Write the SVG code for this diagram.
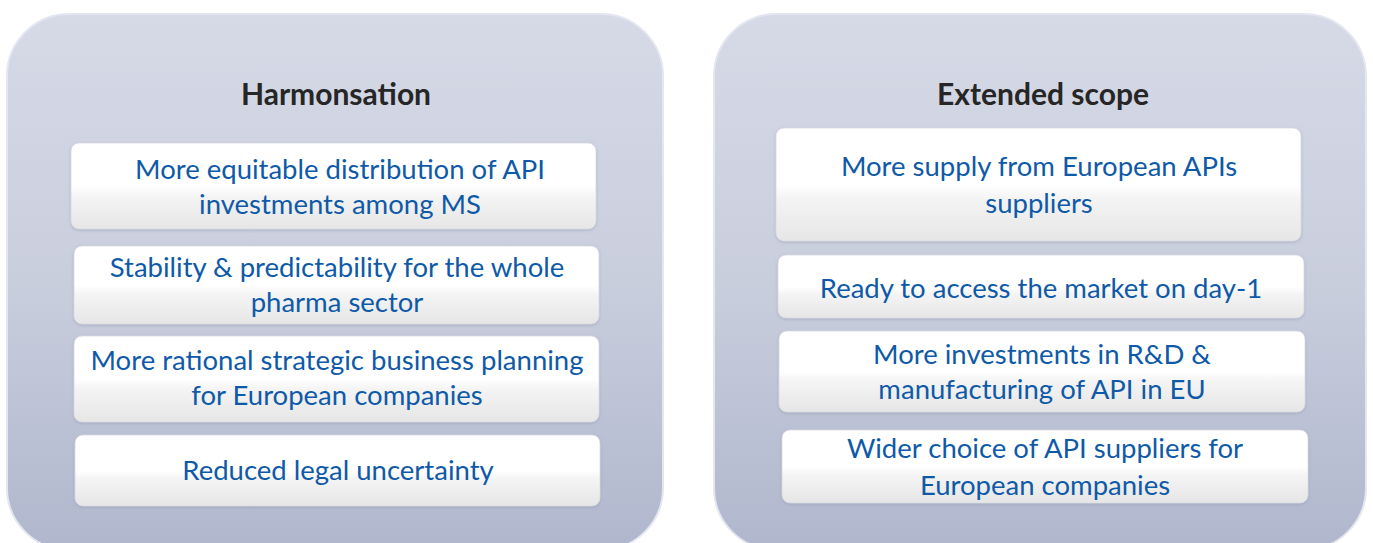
<svg xmlns="http://www.w3.org/2000/svg" width="1373" height="543" viewBox="0 0 1373 543">
<defs>
<linearGradient id="panelG" x1="0" y1="0" x2="0" y2="1">
<stop offset="0" stop-color="#d6dae7"/>
<stop offset="0.5" stop-color="#c9cedd"/>
<stop offset="1" stop-color="#b0b7cd"/>
</linearGradient>
<linearGradient id="boxG" x1="0" y1="0" x2="0" y2="1">
<stop offset="0" stop-color="#ffffff"/>
<stop offset="0.5" stop-color="#ffffff"/>
<stop offset="0.62" stop-color="#f4f4f4"/>
<stop offset="1" stop-color="#e6e6e6"/>
</linearGradient>
<filter id="sh" x="-5%" y="-5%" width="110%" height="110%">
<feDropShadow dx="0" dy="1" stdDeviation="1.5" flood-color="#8a90a8" flood-opacity="0.5"/>
</filter>
</defs>
<style>
.panel{fill:url(#panelG);stroke:#e4e7f0;stroke-width:2}
.box{fill:url(#boxG);stroke:#d8dbe4;stroke-width:0.8;filter:url(#sh)}
.title{font-family:Lato,"Liberation Sans",sans-serif;font-weight:bold;font-size:30px;fill:#262626;text-anchor:middle}
.t{font-family:Lato,"Liberation Sans",sans-serif;font-size:27.5px;fill:#0f5aa8;text-anchor:middle}
</style>
<rect width="1373" height="543" fill="#ffffff"/>
<g id="panel-harmonisation">
<rect class="panel" x="7" y="14" width="656" height="536" rx="62"/>
<text class="title" x="336" y="105">Harmonsation</text>
</g>
<g id="panel-extended">
<rect class="panel" x="714" y="14" width="652" height="536" rx="62"/>
<text class="title" x="1043" y="105">Extended scope</text>
</g>
<g id="box-l1"><rect class="box" x="71" y="143" width="525" height="86" rx="8"/>
<text class="t" x="340" y="179">More equitable distribution of API</text>
<text class="t" x="340" y="214">investments among MS</text></g>
<g id="box-l2"><rect class="box" x="74" y="246" width="525" height="78" rx="8"/>
<text class="t" x="337" y="277">Stability &amp; predictability for the whole</text>
<text class="t" x="337" y="312">pharma sector</text></g>
<g id="box-l3"><rect class="box" x="74" y="336" width="525" height="86" rx="8"/>
<text class="t" x="337" y="370">More rational strategic business planning</text>
<text class="t" x="337" y="405">for European companies</text></g>
<g id="box-l4"><rect class="box" x="75" y="435" width="525" height="71" rx="8"/>
<text class="t" x="338" y="480">Reduced legal uncertainty</text></g>
<g id="box-r1"><rect class="box" x="776" y="128" width="525" height="113" rx="8"/>
<text class="t" x="1039" y="176">More supply from European APIs</text>
<text class="t" x="1039" y="213">suppliers</text></g>
<g id="box-r2"><rect class="box" x="778" y="255" width="526" height="63" rx="8"/>
<text class="t" x="1041" y="298">Ready to access the market on day-1</text></g>
<g id="box-r3"><rect class="box" x="779" y="331" width="526" height="81" rx="8"/>
<text class="t" x="1042" y="364">More investments in R&amp;D &amp;</text>
<text class="t" x="1042" y="399">manufacturing of API in EU</text></g>
<g id="box-r4"><rect class="box" x="782" y="430" width="526" height="73" rx="8"/>
<text class="t" x="1045" y="458">Wider choice of API suppliers for</text>
<text class="t" x="1045" y="495">European companies</text></g>
<g id="connectors"/>
</svg>
